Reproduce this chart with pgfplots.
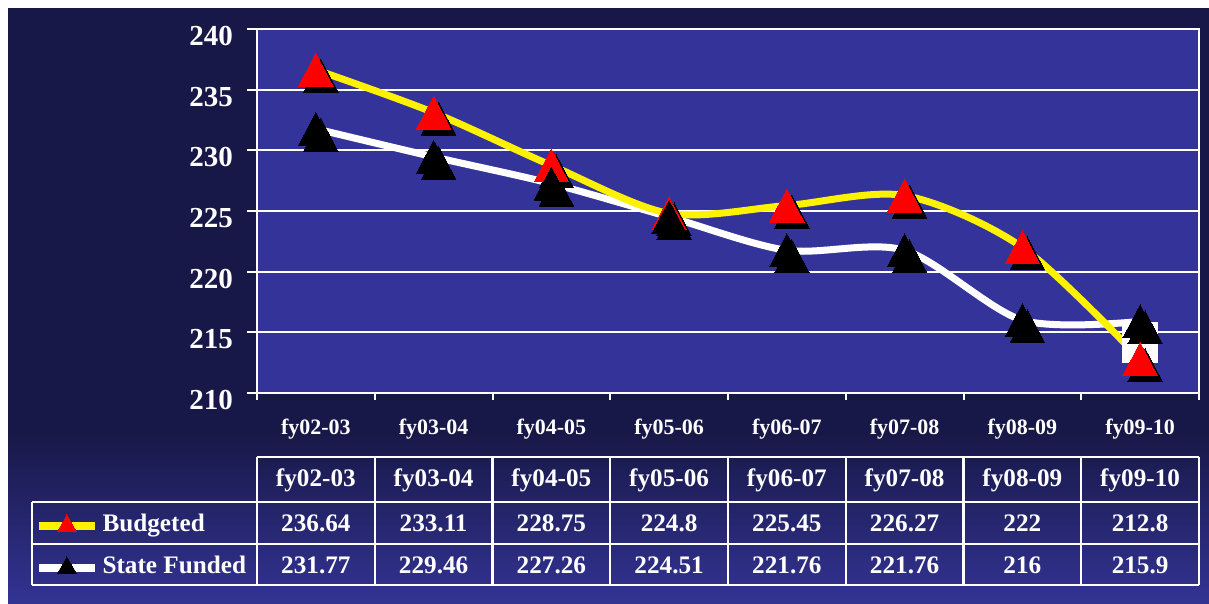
\documentclass[border=0pt]{standalone}
\usepackage{pgfplots}
\pgfplotsset{compat=1.18}
\usepackage{fontspec}
\setmainfont{Liberation Serif}
\definecolor{bgdark}{RGB}{24,24,72}
\definecolor{bglight}{RGB}{51,51,148}
\definecolor{plotblue}{RGB}{51,51,153}
\pgfplotstableread{
x budget state
0 236.64 231.77
1 233.11 229.46
2 228.75 227.26
3 224.8 224.51
4 225.45 221.76
5 226.27 221.76
6 222 216
7 212.8 215.9
}\datatable
\begin{document}
\begin{tikzpicture}
\begin{scope}[x=0.5pt,y=0.5pt]
\fill[white] (0,0) rectangle (1209,604);
\fill[bgdark] (8,170) rectangle (1209,596);
\shade[top color=bgdark, bottom color=bglight] (8,0) rectangle (1209,170.5);
\end{scope}
\begin{axis}[
  at={(128.5pt,105.5pt)}, anchor=south west,
  scale only axis, width=471pt, height=182pt,
  xmin=-0.5, xmax=7.5, ymin=210, ymax=240,
  axis background/.style={fill=plotblue},
  axis line style={white, line width=1pt},
  xtick={0,...,7},
  xticklabels={fy02-03,fy03-04,fy04-05,fy05-06,fy06-07,fy07-08,fy08-09,fy09-10},
  minor xtick={-0.5,0.5,...,7.5},
  ytick={210,215,...,240},
  tick align=outside,
  xtick pos=bottom, ytick pos=left,
  major tick length=5pt, minor tick length=3.5pt,
  major x tick style={draw=none},
  tick style={white, line width=1pt},
  ymajorgrids, grid style={white, line width=1pt},
  /pgf/number format/assume math mode=true,
  yticklabel style={font=\bfseries\fontsize{14.5}{14.5}\selectfont, text=white, xshift=-3.5pt, yshift=-3.5pt},
  xticklabel style={font=\bfseries\fontsize{11}{11}\selectfont, text=white, anchor=center, yshift=-13pt},
  clip=false,
  legend image code/.code={\draw[mark repeat=2,mark phase=2,#1] plot coordinates {(0pt,0pt) (14pt,0pt) (28pt,0pt)};},
  legend style={at={(rel axis cs:-0.2357,-0.3324)}, anchor=north west, draw=none, fill=none,
    inner sep=0pt, outer sep=0pt, row sep=9pt,
    nodes={inner sep=0pt, text height=9pt, text depth=3pt, text=white, font=\bfseries\fontsize{12.6}{12.6}\selectfont}},
  legend cell align=left,
]
\addlegendimage{yellow, line width=4pt, mark=triangle*, mark size=5.5pt, mark options={red, line width=0pt}}
\addlegendentry{\hspace{1.8pt}Budgeted}
\addlegendimage{white, line width=4pt, mark=triangle*, mark size=5.5pt, mark options={black, line width=0pt}}
\addlegendentry{\hspace{1.8pt}State Funded}
\addplot[white, line width=3.5pt, smooth, tension=0.5, forget plot] table[x=x, y=state] {\datatable};
\addplot[yellow, line width=3.5pt, smooth, tension=0.5, forget plot] table[x=x, y=budget] {\datatable};
\addplot[only marks, mark=square*, mark size=8.75pt, mark options={white, yscale=1.143}, forget plot] coordinates {(7,214.2)};
\addplot[only marks, mark=triangle*, mark size=10pt, mark options={black, line width=0pt, xshift=2.5pt, yshift=-5.75pt, yscale=1.1}, forget plot] table[x=x, y=budget] {\datatable};
\addplot[only marks, mark=triangle*, mark size=10pt, mark options={black, line width=0pt, xshift=2.5pt, yshift=-5.75pt, yscale=1.1}, forget plot] table[x=x, y=state] {\datatable};
\addplot[only marks, mark=triangle*, mark size=10pt, mark options={red, line width=0pt, yshift=-2.75pt, yscale=1.1}, forget plot] table[x=x, y=budget] {\datatable};
\addplot[only marks, mark=triangle*, mark size=10pt, mark options={black, line width=0pt, yshift=-2.75pt, yscale=1.1}, forget plot] table[x=x, y=state] {\datatable};
\end{axis}
\begin{scope}[x=0.5pt,y=0.5pt, every node/.style={text=white, font=\bfseries\fontsize{12.6}{12.6}\selectfont, inner sep=0pt}]
\foreach \k in {0,...,8} {
  \draw[white, line width=1.2pt] ({257+117.75*\k},147) -- ({257+117.75*\k},19);
}
\draw[white, line width=1.2pt] (32,102) -- (32,19);
\draw[white, line width=1.2pt] (257,147) -- (1199,147);
\draw[white, line width=1.2pt] (32,102) -- (1199,102);
\draw[white, line width=1.2pt] (32,60) -- (1199,60);
\draw[white, line width=1.2pt] (32,19) -- (1199,19);
\foreach \lab [count=\i from 0] in {fy02-03,fy03-04,fy04-05,fy05-06,fy06-07,fy07-08,fy08-09,fy09-10} {
  \node[anchor=base] at ({257+117.75*(\i+0.5)},117) {\lab};
}
\foreach \v [count=\i from 0] in {236.64,233.11,228.75,224.8,225.45,226.27,222,212.8} {
  \node[anchor=base] at ({257+117.75*(\i+0.5)},72) {\v};
}
\foreach \v [count=\i from 0] in {231.77,229.46,227.26,224.51,221.76,221.76,216,215.9} {
  \node[anchor=base] at ({257+117.75*(\i+0.5)},30.5) {\v};
}
\end{scope}
\end{tikzpicture}
\end{document}
